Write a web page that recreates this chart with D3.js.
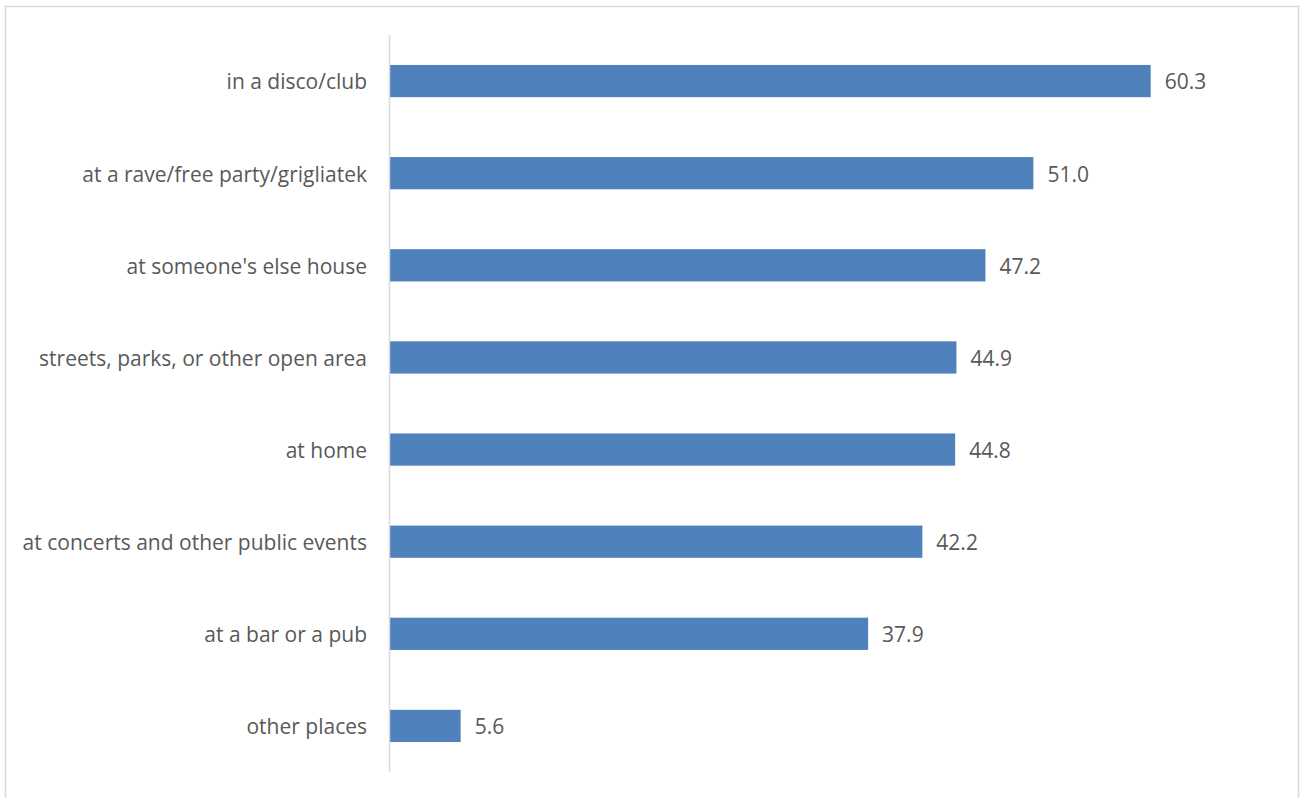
<!DOCTYPE html>
<html>
<head>
<meta charset="utf-8">
<script src="https://d3js.org/d3.v7.min.js"></script>
<style>
  body { margin: 0; background: #fff; }
  svg { display: block; }
  .lbl { font-family: "Open Sans", sans-serif; font-size: 21px; fill: #595959; }
</style>
</head>
<body>
<svg id="chart" width="1300" height="798"></svg>
<script>
// places where drugs were used (%)
var categories = [
    "in a disco/club",
    "at a rave/free party/grigliatek",
    "at someone's else house",
    "streets, parks, or other open area",
    "at home",
    "at concerts and other public events",
    "at a bar or a pub",
    "other places"
];
var values = [60.3, 51.0, 47.2, 44.9, 44.8, 42.2, 37.9, 5.6];

var svg = d3.select("#chart");

// outer frame
svg.append("rect")
    .attr("x", 5.5).attr("y", 6.5)
    .attr("width", 1293).attr("height", 795)
    .attr("fill", "none")
    .attr("stroke", "#d9d9d9")
    .attr("stroke-width", 1.5);

var x = d3.scaleLinear().domain([0, 60.3]).range([390, 1150.7]);
var y = d3.scaleBand().domain(categories).range([35, 772]).paddingInner(0.65).paddingOuter(0.325);

svg.selectAll("rect.bar")
    .data(values)
    .enter()
    .append("rect")
    .attr("class", "bar")
    .attr("x", x(0))
    .attr("y", function (d, i) { return y(categories[i]); })
    .attr("width", function (d) { return x(d) - x(0); })
    .attr("height", y.bandwidth())
    .attr("fill", "#4f81bd");

// vertical axis line
svg.append("line")
    .attr("x1", 389.5).attr("x2", 389.5)
    .attr("y1", 35).attr("y2", 772)
    .attr("stroke", "#d9d9d9")
    .attr("stroke-width", 1.5);

svg.selectAll("text.cat")
    .data(categories)
    .enter()
    .append("text")
    .attr("class", "lbl cat")
    .attr("x", 367)
    .attr("y", function (d) { return y(d) + y.bandwidth() / 2; })
    .attr("dy", "0.4em")
    .attr("text-anchor", "end")
    .text(function (d) { return d; });

svg.selectAll("text.val")
    .data(values)
    .enter()
    .append("text")
    .attr("class", "lbl val")
    .attr("x", function (d) { return x(d) + 14; })
    .attr("y", function (d, i) { return y(categories[i]) + y.bandwidth() / 2; })
    .attr("dy", "0.4em")
    .text(function (d) { return d.toFixed(1); });
</script>
</body>
</html>
